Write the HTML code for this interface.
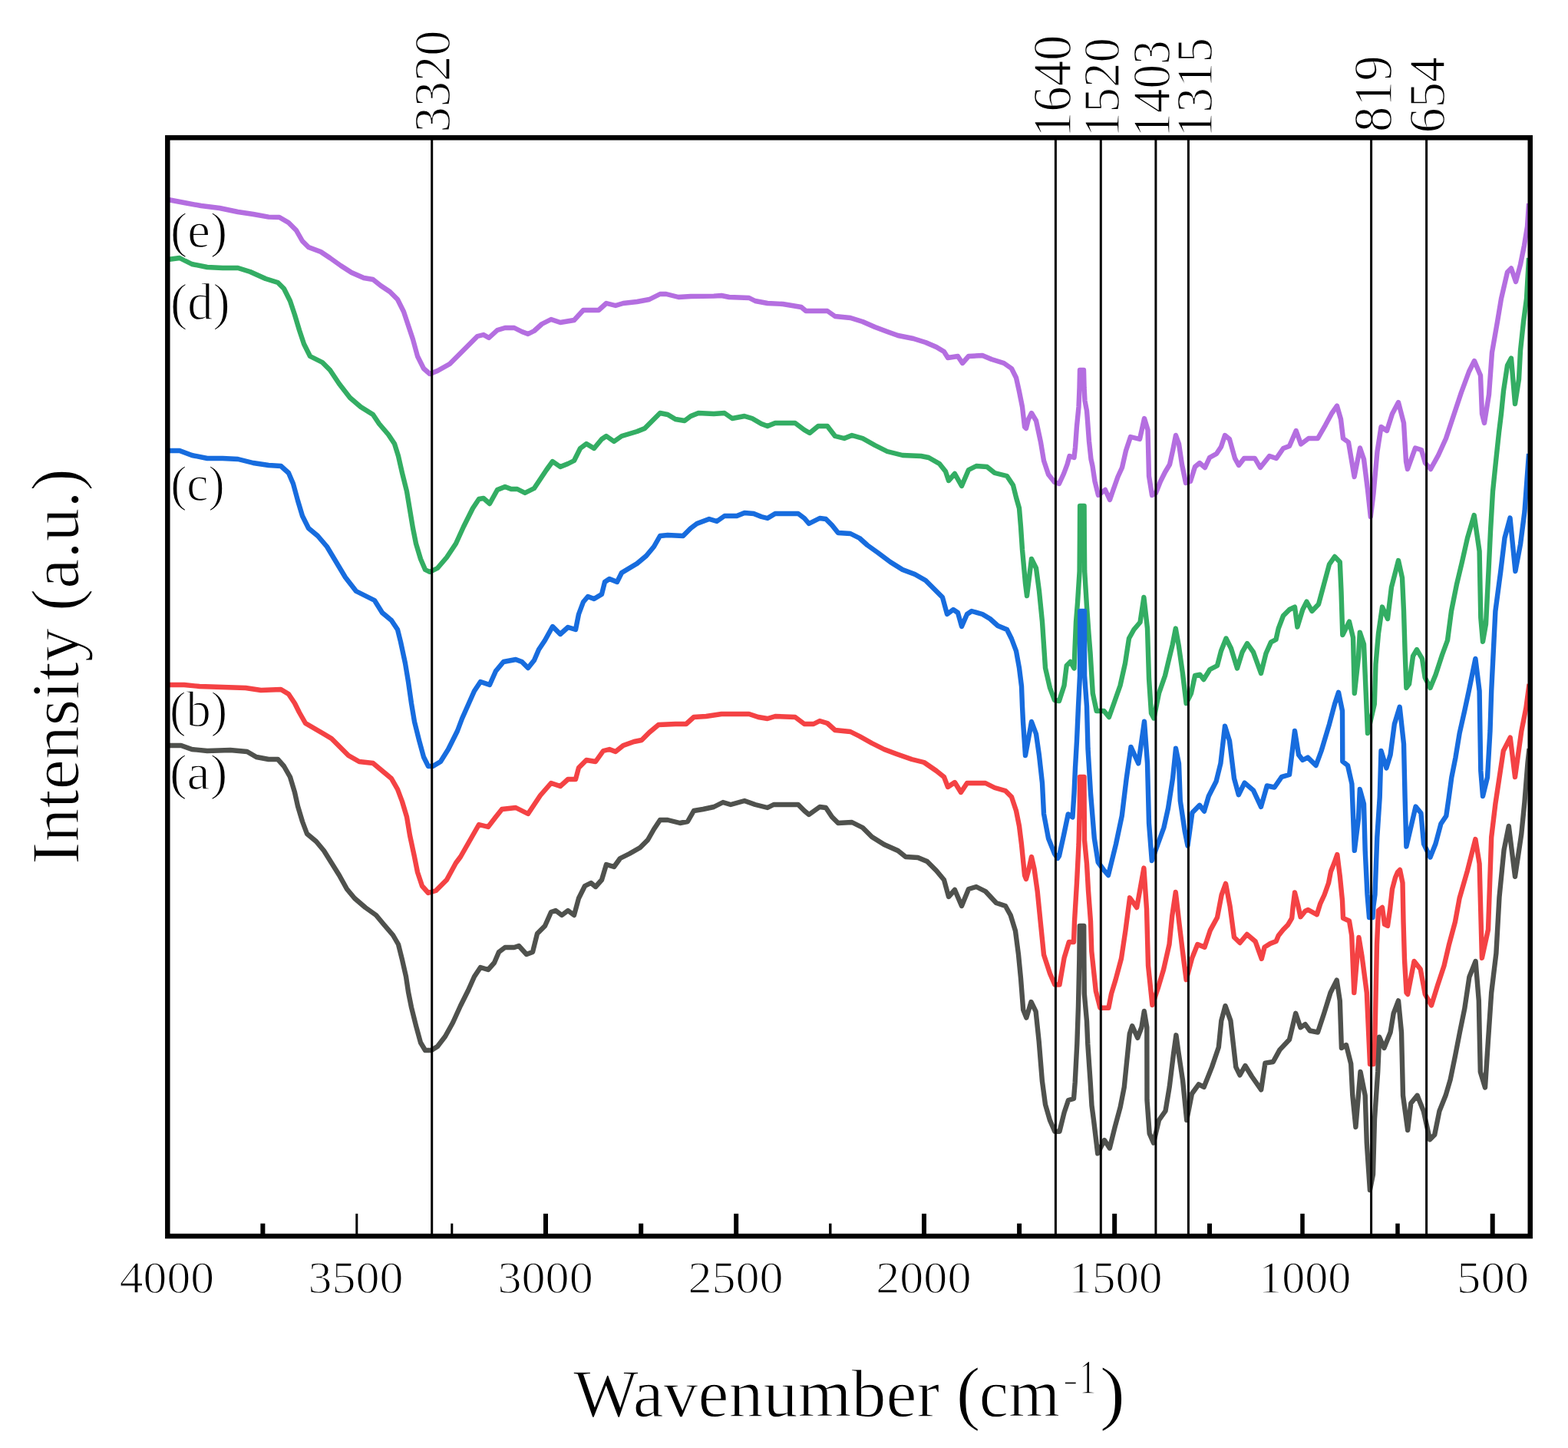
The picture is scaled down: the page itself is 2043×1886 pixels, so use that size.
<!DOCTYPE html>
<html><head><meta charset="utf-8"><title>FTIR spectra</title>
<style>
html,body{margin:0;padding:0;background:#fff;}
body{width:2043px;height:1886px;overflow:hidden;}
svg{display:block;}
text{font-family:'Liberation Serif','Times New Roman',serif;fill:#000;stroke:#fff;stroke-width:1.3px;}
</style></head><body>
<svg width="2043" height="1886" viewBox="0 0 2043 1886">
<rect x="0" y="0" width="2043" height="1886" fill="#fff"/>
<polyline points="219.0,260.0 240.0,264.0 262.0,268.0 286.0,271.0 310.0,276.0 330.0,279.0 350.0,282.6 364.0,283.0 376.0,290.0 386.0,300.0 394.0,314.0 402.0,322.0 418.0,328.0 430.0,336.0 444.0,346.0 458.0,355.0 474.0,362.0 486.0,364.0 496.0,372.0 508.0,380.0 518.0,390.0 526.0,406.0 532.0,424.0 538.0,442.0 544.0,464.0 552.0,480.0 560.0,487.0 570.0,483.0 586.0,474.0 600.0,460.0 610.0,450.0 622.0,438.0 630.0,436.0 637.0,440.0 648.0,430.0 658.0,427.0 670.0,427.0 680.0,432.0 688.0,435.0 696.0,431.0 706.0,422.0 718.0,416.0 730.0,420.0 748.0,417.0 760.0,404.0 772.0,404.0 780.0,404.0 790.0,395.0 802.0,398.0 812.0,395.0 830.0,393.0 846.0,390.0 860.0,383.0 868.0,383.0 884.0,387.0 900.0,386.0 930.0,385.6 940.0,385.0 950.0,387.0 976.0,388.0 984.0,392.0 1000.0,395.0 1020.0,396.0 1044.0,400.0 1050.0,405.0 1078.0,405.0 1088.0,412.0 1108.0,414.0 1124.0,419.0 1140.0,426.0 1156.0,432.0 1170.0,437.0 1190.0,441.0 1206.0,446.0 1220.0,452.0 1230.0,458.0 1235.0,466.0 1248.0,464.0 1254.0,473.0 1262.0,464.0 1280.0,463.0 1292.0,468.0 1308.0,473.0 1318.0,480.0 1324.0,492.0 1328.0,510.0 1332.0,530.0 1335.0,556.0 1337.0,558.0 1340.0,546.0 1344.0,538.0 1350.0,548.0 1356.0,576.0 1360.0,600.0 1366.0,618.0 1374.0,628.0 1380.0,630.0 1386.0,617.0 1390.5,605.0 1393.5,594.0 1399.5,596.0 1401.0,583.0 1403.0,555.0 1405.5,530.0 1406.5,505.0 1407.0,482.0 1412.0,482.0 1412.6,505.0 1413.5,522.0 1416.0,535.0 1416.8,545.0 1419.0,575.0 1421.5,598.0 1423.5,607.0 1426.5,627.0 1431.0,645.0 1440.0,638.0 1446.0,651.0 1450.5,638.0 1456.5,621.0 1462.0,609.0 1467.0,587.0 1473.0,569.0 1485.0,572.0 1491.0,545.0 1495.5,560.0 1497.0,620.0 1501.0,645.0 1506.0,642.0 1512.0,627.0 1518.0,615.0 1524.0,605.0 1528.0,587.0 1532.0,567.0 1536.0,578.0 1540.0,605.0 1545.0,629.0 1551.0,627.0 1557.0,608.0 1563.0,603.0 1570.0,609.0 1576.0,596.0 1585.0,591.0 1591.0,582.0 1596.0,567.0 1602.0,572.0 1609.0,597.0 1614.0,606.0 1621.0,597.0 1635.0,597.0 1642.0,609.0 1650.0,599.0 1654.0,594.0 1663.0,597.0 1672.0,584.0 1680.0,581.0 1688.7,561.0 1695.0,578.5 1705.0,571.0 1717.0,571.0 1727.0,553.6 1735.0,538.7 1742.0,528.7 1747.0,546.0 1750.0,571.0 1757.0,576.0 1764.6,621.0 1772.0,583.5 1777.0,598.0 1782.0,638.0 1785.8,673.0 1789.5,643.0 1794.5,588.0 1799.5,556.0 1807.0,561.0 1814.0,539.0 1822.0,524.0 1829.0,551.0 1832.0,601.0 1834.0,611.0 1844.0,583.5 1852.0,586.0 1857.0,603.0 1864.0,611.0 1874.0,593.0 1884.0,571.0 1894.0,541.0 1904.0,511.0 1914.0,484.0 1921.0,470.0 1929.0,489.0 1931.0,539.0 1934.0,551.0 1940.0,514.0 1944.0,459.0 1951.0,419.0 1956.0,389.0 1964.0,354.5 1969.0,349.5 1975.0,367.0 1981.0,344.5 1986.0,319.6 1990.0,295.0 1992.0,265.0" fill="none" stroke="#b46ee0" stroke-width="6.4" stroke-linejoin="round" stroke-linecap="butt"/>
<polyline points="219.0,338.0 234.0,336.0 250.0,344.0 270.0,348.0 290.0,349.0 310.0,349.0 326.0,354.0 346.0,363.0 362.0,368.0 370.0,376.0 378.0,392.0 384.0,410.0 390.0,430.0 396.0,448.0 404.0,464.0 420.0,472.0 430.0,482.0 442.0,500.0 456.0,518.0 470.0,530.0 486.0,540.0 494.0,552.0 506.0,566.0 514.0,578.0 519.0,594.0 524.0,616.0 530.0,640.0 534.0,664.0 538.0,688.0 542.0,708.0 548.0,728.0 554.0,742.0 560.0,745.0 570.0,740.0 582.0,726.0 594.0,708.0 604.0,686.0 610.0,674.0 616.0,662.0 624.0,650.0 630.0,649.0 638.0,656.0 648.0,638.0 658.0,634.0 666.0,637.0 674.0,637.0 684.0,642.0 696.0,636.0 704.0,624.0 712.0,612.0 720.0,601.0 730.0,608.0 740.0,604.0 748.0,600.0 756.0,584.0 764.0,578.0 774.0,584.0 784.0,572.0 790.0,568.0 800.0,575.0 810.0,568.0 830.0,562.0 840.0,558.0 850.0,548.0 860.0,538.0 870.0,540.0 880.0,546.0 892.0,548.0 900.0,542.0 910.0,538.0 930.0,539.0 944.0,538.0 954.0,545.0 970.0,542.0 980.0,545.0 992.0,552.0 1000.0,555.0 1010.0,551.0 1036.0,551.0 1048.0,560.0 1055.0,564.0 1066.0,555.0 1078.0,555.0 1088.0,568.0 1100.0,571.0 1110.0,567.0 1124.0,571.0 1140.0,580.0 1156.0,588.0 1176.0,593.0 1200.0,594.0 1210.0,596.0 1224.0,604.0 1232.0,614.0 1236.0,626.0 1244.0,617.0 1253.0,633.0 1262.0,612.0 1272.0,607.0 1286.0,608.0 1296.0,616.0 1312.0,620.0 1320.0,632.0 1324.0,648.0 1328.0,662.0 1330.0,686.0 1332.0,716.0 1336.0,760.0 1338.0,776.0 1344.0,728.0 1350.0,740.0 1354.0,770.0 1358.0,810.0 1360.0,840.0 1362.0,870.0 1368.0,896.0 1374.0,912.0 1380.0,913.0 1386.5,893.0 1389.7,867.0 1394.6,862.0 1399.5,870.5 1400.5,845.0 1402.0,810.0 1404.0,785.0 1406.6,744.0 1406.9,700.0 1407.1,659.0 1412.6,659.0 1412.8,700.0 1413.2,744.0 1416.0,790.0 1418.5,825.0 1420.6,851.0 1423.8,903.0 1428.7,926.0 1438.4,926.0 1445.0,934.0 1451.4,916.0 1459.5,893.0 1466.0,864.0 1471.0,831.5 1477.4,820.0 1485.5,810.5 1490.4,778.0 1495.0,818.6 1497.0,883.5 1500.0,929.0 1503.4,935.5 1510.0,903.0 1518.0,880.0 1523.0,859.0 1527.7,839.7 1531.8,818.6 1535.8,841.0 1540.7,875.4 1545.6,916.0 1552.0,903.0 1557.0,880.0 1563.4,878.6 1568.3,885.0 1576.4,872.0 1586.0,867.0 1591.0,847.8 1597.5,831.5 1604.0,844.5 1612.0,870.5 1618.6,849.4 1625.0,838.0 1633.0,849.4 1643.0,877.0 1649.5,851.0 1656.0,836.4 1662.5,833.0 1665.7,818.6 1672.0,802.0 1680.0,794.0 1687.0,790.6 1690.4,816.6 1697.3,794.0 1702.5,783.7 1709.4,796.0 1718.0,787.0 1725.0,761.0 1732.0,735.0 1739.0,725.0 1745.8,732.0 1747.5,770.0 1749.3,827.0 1758.0,809.7 1763.0,830.5 1764.8,903.0 1770.0,856.0 1771.8,823.6 1777.0,839.0 1779.6,899.7 1782.0,955.0 1790.8,917.0 1792.5,865.0 1796.0,825.0 1801.0,790.6 1808.0,806.0 1813.0,764.7 1822.0,730.0 1827.0,752.6 1829.0,796.0 1830.6,847.8 1832.4,896.0 1836.0,891.0 1841.0,854.7 1846.0,846.0 1853.0,858.0 1856.6,882.4 1863.5,896.0 1870.5,879.0 1879.0,853.0 1886.0,834.0 1891.0,796.0 1898.0,761.0 1905.0,731.8 1912.0,700.6 1920.7,671.0 1927.6,718.0 1929.3,804.5 1932.0,835.7 1936.0,813.0 1939.5,744.0 1942.0,692.0 1945.0,640.0 1949.0,601.0 1953.0,563.5 1956.0,539.0 1959.0,509.0 1964.0,476.0 1969.0,466.5 1974.0,526.0 1979.0,494.0 1981.0,456.5 1985.0,419.0 1989.0,389.0 1992.0,336.0" fill="none" stroke="#33ad63" stroke-width="6.4" stroke-linejoin="round" stroke-linecap="butt"/>
<polyline points="219.0,587.0 234.0,587.0 250.0,593.0 270.0,597.0 290.0,597.0 310.0,598.0 330.0,603.0 350.0,606.0 366.0,607.0 376.0,616.0 382.0,630.0 388.0,652.0 394.0,672.0 402.0,688.0 414.0,698.0 426.0,712.0 438.0,732.0 450.0,752.0 464.0,770.0 476.0,776.0 488.0,782.0 498.0,798.0 510.0,808.0 518.0,820.0 522.0,836.0 528.0,864.0 532.0,888.0 536.0,916.0 540.0,940.0 546.0,964.0 552.0,986.0 558.0,998.0 564.0,998.0 574.0,992.0 584.0,976.0 596.0,952.0 602.0,936.0 610.0,918.0 618.0,900.0 626.0,888.0 638.0,892.0 646.0,874.0 656.0,862.0 672.0,859.0 680.0,862.0 688.0,870.0 696.0,860.0 702.0,846.0 710.0,834.0 720.0,816.0 730.0,826.0 740.0,817.0 750.0,820.0 754.0,800.0 760.0,784.0 766.0,777.0 774.0,780.0 784.0,774.0 788.0,758.0 794.0,754.0 804.0,758.0 810.0,746.0 820.0,740.0 830.0,734.0 842.0,724.0 852.0,712.0 860.0,698.0 870.0,697.0 890.0,698.0 900.0,688.0 908.0,682.0 924.0,676.0 934.0,679.0 944.0,672.0 960.0,672.0 970.0,668.0 982.0,669.0 992.0,673.0 1000.0,675.0 1010.0,669.0 1040.0,669.0 1048.0,675.0 1054.0,682.0 1068.0,675.0 1076.0,676.0 1084.0,684.0 1092.0,694.0 1108.0,695.0 1120.0,701.0 1130.0,710.0 1144.0,720.0 1160.0,732.0 1176.0,742.0 1192.0,748.0 1206.0,756.0 1216.0,766.0 1228.0,778.0 1234.0,800.0 1242.0,794.0 1248.0,798.0 1253.0,816.0 1260.0,800.0 1266.0,796.0 1280.0,800.0 1290.0,806.0 1300.0,815.0 1312.0,820.0 1318.0,832.0 1324.0,848.0 1328.0,870.0 1331.0,894.0 1332.0,920.0 1333.0,940.0 1336.0,984.0 1344.0,940.0 1350.0,956.0 1354.0,984.0 1358.0,1020.0 1360.0,1060.0 1366.0,1092.0 1374.0,1112.0 1378.0,1118.0 1380.0,1115.0 1386.0,1087.8 1391.7,1060.5 1397.5,1064.4 1399.5,1033.0 1401.0,1000.0 1403.0,965.0 1405.0,920.0 1407.0,880.0 1407.2,796.0 1413.0,796.0 1413.1,880.0 1416.0,920.0 1417.5,975.0 1421.0,1033.0 1425.8,1091.7 1430.7,1123.0 1438.0,1133.0 1444.0,1140.0 1454.0,1099.5 1461.8,1062.5 1467.7,1013.8 1473.5,972.9 1483.3,994.3 1491.0,939.7 1495.0,994.3 1497.0,1072.0 1500.8,1121.0 1508.6,1099.5 1516.4,1078.0 1522.0,1052.7 1528.0,1013.8 1532.0,974.8 1536.0,994.3 1537.8,1043.0 1543.6,1082.0 1547.5,1101.5 1553.4,1058.6 1563.0,1048.8 1569.0,1056.6 1574.8,1037.0 1584.6,1017.7 1590.4,994.3 1596.0,945.6 1602.0,965.0 1608.0,1013.8 1613.8,1035.2 1621.6,1019.6 1633.0,1029.4 1643.0,1050.8 1650.8,1023.5 1660.5,1025.5 1670.0,1011.8 1680.0,1009.0 1687.0,952.0 1692.0,983.0 1697.3,990.0 1704.0,986.6 1714.6,997.0 1721.6,978.0 1732.0,943.3 1739.0,917.0 1744.0,901.7 1749.0,926.0 1749.3,991.8 1756.0,997.0 1761.4,1021.0 1764.8,1107.8 1770.0,1066.0 1771.8,1028.0 1777.0,1047.0 1778.7,1107.8 1781.5,1165.0 1784.0,1195.0 1788.5,1195.0 1789.5,1180.0 1791.5,1165.0 1794.3,1090.5 1797.7,1038.5 1799.5,978.0 1806.4,1000.4 1811.6,983.0 1816.8,943.3 1823.7,920.8 1829.0,969.0 1830.6,1038.5 1832.4,1102.6 1839.3,1073.0 1844.5,1050.6 1851.4,1059.0 1855.0,1099.0 1863.5,1116.5 1870.5,1099.0 1877.4,1073.0 1884.3,1062.8 1887.8,1038.5 1891.3,1012.6 1896.5,986.6 1901.6,955.4 1908.6,924.2 1913.8,900.0 1922.4,858.0 1927.6,900.0 1929.3,1003.9 1932.0,1037.0 1938.0,1012.6 1941.5,952.0 1943.2,900.0 1948.4,796.0 1955.3,744.0 1960.5,700.6 1967.5,674.6 1974.4,744.0 1981.0,709.0 1986.5,666.0 1992.0,591.0" fill="none" stroke="#176cde" stroke-width="6.4" stroke-linejoin="round" stroke-linecap="butt"/>
<polyline points="219.0,892.0 240.0,892.0 260.0,894.0 290.0,895.0 320.0,896.0 340.0,899.0 366.0,898.0 376.0,904.0 384.0,916.0 390.0,928.0 398.0,942.0 410.0,949.0 422.0,956.0 432.0,962.0 442.0,972.0 454.0,984.0 468.0,992.0 486.0,994.0 498.0,1004.0 510.0,1014.0 518.0,1028.0 524.0,1044.0 530.0,1064.0 534.0,1088.0 540.0,1116.0 544.0,1136.0 550.0,1154.0 558.0,1163.0 568.0,1160.0 582.0,1146.0 594.0,1124.0 600.0,1116.0 608.0,1102.0 616.0,1088.0 624.0,1074.0 636.0,1077.0 646.0,1064.0 654.0,1054.0 672.0,1052.0 688.0,1060.0 696.0,1048.0 704.0,1036.0 718.0,1020.0 730.0,1024.0 740.0,1015.0 750.0,1015.0 754.0,1000.0 764.0,990.0 776.0,992.0 786.0,978.0 794.0,976.0 802.0,979.0 812.0,971.0 826.0,966.0 836.0,964.0 846.0,954.0 858.0,944.0 880.0,943.0 894.0,943.0 904.0,934.0 920.0,933.0 940.0,930.0 960.0,930.0 976.0,930.0 988.0,934.0 1000.0,936.0 1010.0,933.0 1036.0,934.0 1048.0,943.0 1060.0,943.0 1068.0,939.0 1078.0,942.0 1088.0,951.0 1108.0,953.0 1120.0,959.0 1136.0,968.0 1152.0,976.0 1168.0,982.0 1188.0,989.0 1204.0,993.0 1220.0,1004.0 1230.0,1012.0 1235.0,1025.0 1244.0,1019.0 1252.0,1032.0 1260.0,1020.0 1284.0,1020.0 1296.0,1026.0 1310.0,1030.0 1318.0,1038.0 1324.0,1056.0 1328.0,1076.0 1331.0,1100.0 1335.0,1140.0 1337.0,1145.0 1340.0,1134.0 1344.0,1116.0 1347.6,1132.0 1351.7,1161.0 1355.8,1202.0 1360.0,1243.4 1368.0,1268.0 1374.3,1282.5 1380.5,1282.5 1386.6,1247.5 1392.8,1227.0 1399.0,1227.0 1400.0,1200.0 1403.0,1150.0 1405.5,1100.0 1406.8,1050.0 1407.0,1012.0 1412.5,1012.0 1412.7,1050.0 1413.0,1094.0 1416.0,1125.0 1418.0,1160.0 1421.0,1200.0 1422.3,1239.0 1427.8,1290.7 1433.4,1312.8 1444.4,1312.8 1448.0,1294.4 1453.6,1276.0 1461.0,1248.4 1466.5,1211.6 1472.0,1169.3 1481.2,1182.0 1490.4,1130.6 1494.0,1184.0 1496.0,1257.6 1501.4,1309.0 1508.8,1287.0 1516.0,1263.0 1523.5,1230.0 1527.2,1193.0 1531.8,1162.0 1536.4,1202.4 1542.0,1248.4 1545.6,1276.0 1553.0,1248.4 1560.3,1230.0 1569.5,1233.7 1576.9,1211.6 1586.0,1195.0 1591.6,1165.6 1597.0,1150.9 1602.6,1180.3 1608.0,1220.8 1615.5,1228.0 1624.7,1217.0 1635.7,1226.3 1643.8,1248.8 1647.6,1233.6 1655.0,1229.0 1662.7,1226.0 1665.8,1218.5 1671.8,1211.0 1677.9,1204.8 1683.2,1195.8 1684.7,1180.6 1687.0,1162.4 1691.5,1180.6 1694.5,1194.2 1700.6,1186.7 1704.4,1185.0 1715.8,1191.2 1720.3,1176.8 1725.6,1165.5 1731.0,1150.3 1734.0,1135.0 1738.5,1123.8 1742.3,1113.0 1746.0,1142.7 1749.0,1173.0 1750.0,1195.8 1758.0,1199.5 1761.2,1218.5 1764.3,1293.0 1770.5,1221.0 1774.6,1245.8 1780.8,1293.0 1785.0,1386.0 1789.5,1386.0 1791.0,1370.0 1792.5,1300.0 1794.0,1230.0 1796.0,1186.0 1801.0,1182.0 1804.0,1204.0 1808.0,1206.0 1811.0,1185.0 1814.0,1158.0 1818.0,1143.0 1821.0,1136.0 1824.0,1133.0 1827.5,1150.0 1828.5,1200.0 1830.0,1250.0 1832.5,1293.0 1834.2,1295.0 1842.5,1252.0 1850.7,1262.2 1856.8,1295.0 1865.0,1309.5 1873.3,1282.8 1881.5,1258.0 1887.7,1231.4 1896.0,1200.6 1901.6,1170.0 1912.0,1133.8 1922.4,1093.0 1927.6,1125.0 1930.9,1247.9 1939.0,1210.8 1943.2,1090.5 1948.4,1047.0 1953.6,1012.6 1958.8,978.0 1967.7,960.7 1974.0,1012.0 1982.3,952.5 1988.4,921.7 1992.5,891.0" fill="none" stroke="#f44244" stroke-width="6.4" stroke-linejoin="round" stroke-linecap="butt"/>
<polyline points="219.0,971.0 236.0,971.0 250.0,976.0 270.0,978.0 300.0,977.0 322.0,979.0 334.0,986.0 350.0,989.0 362.0,989.0 370.0,998.0 378.0,1012.0 384.0,1032.0 388.0,1050.0 394.0,1070.0 400.0,1086.0 412.0,1096.0 422.0,1108.0 432.0,1124.0 442.0,1140.0 452.0,1158.0 462.0,1170.0 476.0,1182.0 490.0,1192.0 500.0,1204.0 512.0,1218.0 519.0,1230.0 524.0,1250.0 529.0,1272.0 532.0,1292.0 536.0,1312.0 542.0,1336.0 548.0,1358.0 554.0,1368.0 562.0,1368.0 570.0,1363.0 580.0,1350.0 590.0,1332.0 600.0,1310.0 610.0,1290.0 618.0,1272.0 626.0,1260.0 636.0,1263.0 644.0,1254.0 650.0,1240.0 658.0,1234.0 670.0,1234.0 676.0,1232.0 686.0,1243.0 694.0,1240.0 700.0,1216.0 710.0,1206.0 718.0,1188.0 724.0,1186.0 732.0,1192.0 740.0,1186.0 748.0,1192.0 754.0,1170.0 762.0,1154.0 770.0,1150.0 776.0,1155.0 784.0,1146.0 790.0,1126.0 800.0,1129.0 808.0,1118.0 820.0,1112.0 834.0,1104.0 844.0,1094.0 852.0,1080.0 860.0,1068.0 870.0,1068.0 886.0,1072.0 896.0,1070.0 904.0,1056.0 916.0,1054.0 930.0,1051.0 942.0,1045.0 952.0,1048.0 970.0,1043.0 984.0,1048.0 1000.0,1052.0 1008.0,1048.0 1040.0,1048.0 1048.0,1056.0 1054.0,1061.0 1068.0,1051.0 1076.0,1052.0 1084.0,1064.0 1092.0,1072.0 1110.0,1071.0 1124.0,1078.0 1136.0,1090.0 1152.0,1100.0 1170.0,1108.0 1180.0,1116.0 1196.0,1117.0 1208.0,1122.0 1220.0,1134.0 1230.0,1146.0 1236.0,1168.0 1244.0,1159.0 1253.0,1180.0 1262.0,1158.0 1272.0,1155.0 1284.0,1161.0 1298.0,1176.0 1310.0,1180.0 1316.7,1192.0 1323.0,1212.5 1327.0,1243.4 1330.0,1274.2 1333.2,1315.4 1337.3,1325.6 1343.5,1305.0 1349.6,1317.4 1353.7,1356.5 1357.9,1408.0 1362.0,1438.7 1368.0,1459.3 1374.3,1473.7 1380.5,1473.7 1386.6,1449.0 1392.0,1433.0 1399.0,1431.0 1400.7,1410.0 1403.3,1360.0 1405.0,1310.0 1406.3,1250.0 1406.8,1206.0 1412.2,1206.0 1412.4,1250.0 1412.8,1294.0 1416.0,1330.0 1417.3,1360.0 1420.7,1410.0 1422.5,1440.0 1425.0,1459.0 1430.2,1502.4 1439.0,1485.0 1445.8,1495.5 1452.7,1467.8 1459.7,1441.8 1464.8,1415.8 1468.3,1381.0 1471.8,1346.6 1475.2,1336.2 1482.2,1351.8 1487.4,1338.0 1490.8,1317.0 1494.3,1338.0 1494.5,1433.0 1497.7,1476.5 1503.0,1488.6 1510.0,1459.0 1518.5,1447.0 1523.7,1415.8 1529.0,1372.6 1532.4,1348.3 1535.8,1372.6 1541.0,1407.0 1546.2,1459.0 1553.0,1424.5 1561.8,1412.4 1568.7,1415.8 1579.0,1389.9 1587.8,1364.0 1591.3,1329.3 1596.5,1310.2 1603.4,1329.3 1610.3,1389.9 1615.5,1400.3 1622.4,1388.0 1631.0,1402.0 1643.2,1419.3 1648.4,1384.7 1658.8,1383.0 1667.4,1367.4 1680.0,1354.0 1688.2,1319.8 1694.4,1338.3 1700.6,1334.2 1706.7,1342.5 1717.0,1344.5 1725.2,1319.8 1733.5,1293.0 1741.7,1276.6 1745.8,1303.4 1747.9,1365.0 1754.0,1361.0 1760.2,1385.6 1762.3,1426.8 1766.4,1468.0 1772.5,1396.0 1778.7,1426.8 1780.8,1488.5 1784.9,1550.0 1789.0,1529.6 1791.0,1457.6 1795.2,1396.0 1797.2,1350.7 1803.4,1365.0 1811.6,1344.5 1815.7,1319.8 1822.0,1303.4 1826.0,1344.5 1828.0,1426.8 1834.2,1472.0 1838.3,1437.0 1846.6,1426.8 1854.8,1447.3 1863.0,1484.3 1869.2,1478.0 1875.4,1447.3 1883.6,1426.8 1889.7,1406.2 1896.0,1375.4 1902.0,1344.5 1908.3,1313.7 1914.4,1272.5 1922.6,1252.0 1926.8,1303.4 1928.8,1396.0 1935.0,1416.5 1939.0,1354.8 1943.2,1293.0 1949.4,1241.7 1953.5,1168.5 1959.6,1106.8 1965.8,1076.0 1974.0,1141.7 1982.3,1086.2 1986.4,1045.0 1990.5,993.7 1992.5,975.0" fill="none" stroke="#4f514d" stroke-width="6.4" stroke-linejoin="round" stroke-linecap="butt"/>
<line x1="562.7" y1="181" x2="562.7" y2="1608" stroke="#000" stroke-width="3"/>
<line x1="1375.4" y1="181" x2="1375.4" y2="1608" stroke="#000" stroke-width="3"/>
<line x1="1434.3" y1="181" x2="1434.3" y2="1608" stroke="#000" stroke-width="3"/>
<line x1="1505.9" y1="181" x2="1505.9" y2="1608" stroke="#000" stroke-width="3"/>
<line x1="1548.4" y1="181" x2="1548.4" y2="1608" stroke="#000" stroke-width="3"/>
<line x1="1786.6" y1="181" x2="1786.6" y2="1608" stroke="#000" stroke-width="3"/>
<line x1="1858.6" y1="181" x2="1858.6" y2="1608" stroke="#000" stroke-width="3"/>
<rect x="339.40" y="1593.6" width="6" height="14.4" fill="#000"/>
<rect x="463.30" y="1580.8" width="3" height="27.2" fill="#000"/>
<rect x="587.30" y="1593.6" width="3" height="14.4" fill="#000"/>
<rect x="708.00" y="1580.8" width="6" height="27.2" fill="#000"/>
<rect x="832.20" y="1593.6" width="6" height="14.4" fill="#000"/>
<rect x="956.20" y="1580.8" width="6" height="27.2" fill="#000"/>
<rect x="1080.10" y="1593.6" width="3.4" height="14.4" fill="#000"/>
<rect x="1201.00" y="1580.8" width="6" height="27.2" fill="#000"/>
<rect x="1325.10" y="1593.6" width="6" height="14.4" fill="#000"/>
<rect x="1449.20" y="1580.8" width="6" height="27.2" fill="#000"/>
<rect x="1573.00" y="1593.6" width="6" height="14.4" fill="#000"/>
<rect x="1694.25" y="1580.8" width="5.5" height="27.2" fill="#000"/>
<rect x="1818.25" y="1593.6" width="5.5" height="14.4" fill="#000"/>
<rect x="1941.70" y="1580.8" width="6" height="27.2" fill="#000"/>
<rect x="218.3" y="179.35" width="1775.45" height="1430.7" fill="none" stroke="#000" stroke-width="6.5"/>
<text transform="translate(155.77,1684.41) scale(1.0412,1.0000)" font-size="59.26">4000</text>
<text transform="translate(401.60,1684.41) scale(1.0461,1.0000)" font-size="59.26">3500</text>
<text transform="translate(648.39,1684.41) scale(1.0496,1.0000)" font-size="59.26">3000</text>
<text transform="translate(896.51,1684.41) scale(1.0477,1.0000)" font-size="59.26">2500</text>
<text transform="translate(1141.20,1684.41) scale(1.0486,1.0000)" font-size="59.26">2000</text>
<text transform="translate(1392.51,1684.41) scale(1.0287,1.0000)" font-size="59.26">1500</text>
<text transform="translate(1640.09,1684.41) scale(1.0152,1.0000)" font-size="59.26">1000</text>
<text transform="translate(1898.04,1684.41) scale(1.0583,1.0000)" font-size="59.26">500</text>
<text transform="translate(222.10,322.10) scale(1.0236,1.0000)" font-size="65.22">(e)</text>
<text transform="translate(221.99,416.33) scale(0.9758,1.0000)" font-size="68.44">(d)</text>
<text transform="translate(222.13,652.13) scale(0.9787,1.0000)" font-size="65.11">(c)</text>
<text transform="translate(221.09,946.00) scale(0.9966,1.0000)" font-size="64.78">(b)</text>
<text transform="translate(220.94,1027.80) scale(1.0503,1.0000)" font-size="64.78">(a)</text>
<text transform="translate(586.33,172.52) rotate(-90) scale(1,1.0138)" font-size="66.49">3320</text>
<text transform="translate(1395.39,179.01) rotate(-90) scale(1,1.0633)" font-size="66.74">1640</text>
<text transform="translate(1458.12,178.84) rotate(-90) scale(1,1.0452)" font-size="64.92">1520</text>
<text transform="translate(1523.51,178.68) rotate(-90) scale(1,1.0917)" font-size="63.10">1403</text>
<text transform="translate(1578.81,178.84) rotate(-90) scale(1,1.0553)" font-size="64.92">1315</text>
<text transform="translate(1813.37,172.06) rotate(-90) scale(1,1.0920)" font-size="66.48">819</text>
<text transform="translate(1882.32,173.48) rotate(-90) scale(1,1.0307)" font-size="66.32">654</text>
<text transform="translate(102.07,1125.98) rotate(-90) scale(1,0.9972)" font-size="88.03">Intensity (a.u.)</text>
<text transform="translate(747.00,1844.58) scale(1.0217,1.0000)" font-size="88.05">Wavenumber</text>
<text transform="translate(1245.71,1844.83) scale(1.0174,1.0000)" font-size="93.67">(</text>
<text transform="translate(1275.75,1844.60) scale(0.9793,1.0000)" font-size="88.00">cm</text>
<text transform="translate(1384.69,1810.97) scale(1.4609,1.0000)" font-size="41.33">-</text>
<text transform="translate(1406.29,1815.30) scale(0.6805,1.0000)" font-size="63.82">1</text>
<text transform="translate(1432.79,1844.68) scale(1.0743,1.0000)" font-size="93.44">)</text>
</svg>
</body></html>
